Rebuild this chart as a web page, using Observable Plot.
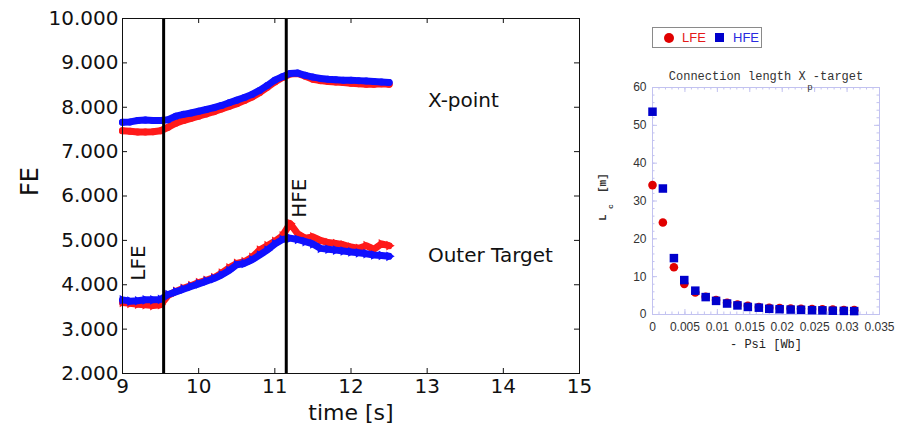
<!DOCTYPE html>
<html><head><meta charset="utf-8">
<script src="https://cdn.jsdelivr.net/npm/d3@7"></script>
<script src="https://cdn.jsdelivr.net/npm/@observablehq/plot@0.6"></script>
<style>
body{margin:0;background:#fff;}
#root{position:relative;width:908px;height:428px;overflow:hidden;background:#fff;}
#left{position:absolute;left:0;top:0;}
#right{position:absolute;left:600px;top:0;}
#legend{position:absolute;left:652px;top:27px;width:108px;height:19px;border:1px solid #8a8a8a;font-family:"Liberation Sans",Arial,sans-serif;font-size:13px;}
#legend span{position:absolute;line-height:19px;top:0;}
</style></head><body>
<div id="root"><div id="left"></div><div id="right"></div>
<div id="legend">
  <span style="left:11px;top:4.5px;width:10px;height:10px;border-radius:50%;background:#e00000"></span>
  <span style="left:29px;color:#e41a1a">LFE</span>
  <span style="left:62px;top:5px;width:9px;height:9px;background:#0000cc"></span>
  <span style="left:80px;color:#2a2ae0">HFE</span>
</div>
</div>
<script>
// ---------- left panel data ----------
const time = [9.0,9.1,9.2,9.3,9.4,9.5,9.6,9.7,9.8,9.9,10.0,10.1,10.2,10.3,10.4,10.5,10.6,10.7,10.8,10.9,11.0,11.1,11.2,11.3,11.4,11.5,11.6,11.7,11.8,11.9,12.0,12.1,12.2,12.3,12.4,12.5];
const xpointLFE = [7.47,7.46,7.44,7.44,7.45,7.47,7.55,7.64,7.70,7.75,7.80,7.85,7.90,7.96,8.02,8.08,8.15,8.23,8.33,8.45,8.57,8.67,8.75,8.76,8.70,8.63,8.60,8.58,8.57,8.56,8.54,8.53,8.52,8.52,8.53,8.52];
const xpointHFE = [7.66,7.67,7.70,7.71,7.70,7.70,7.72,7.80,7.84,7.87,7.91,7.95,7.99,8.04,8.10,8.16,8.22,8.29,8.38,8.49,8.61,8.69,8.76,8.77,8.72,8.68,8.65,8.63,8.62,8.61,8.61,8.60,8.59,8.58,8.57,8.56];
const targetLFE = [3.60,3.58,3.56,3.55,3.53,3.55,3.76,3.85,3.92,3.98,4.05,4.10,4.16,4.26,4.38,4.48,4.52,4.62,4.78,4.88,4.98,5.10,5.38,5.15,5.05,5.08,5.00,4.95,4.93,4.90,4.85,4.82,4.88,4.80,4.92,4.88];
const targetHFE = [3.66,3.63,3.64,3.66,3.66,3.67,3.78,3.84,3.90,3.96,4.02,4.08,4.14,4.22,4.32,4.45,4.48,4.56,4.67,4.78,4.92,5.02,5.05,5.02,4.97,4.92,4.82,4.80,4.78,4.76,4.74,4.72,4.70,4.67,4.66,4.64];
const eventTimes = [9.54, 11.15];
const eventLabels = ["LFE", "HFE"];
const eventLabelX = [9.21, 11.32];
const eventLabelY = [4.09, 5.51];
const regionLabels = ["X-point", "Outer Target"];
const regionLabelX = [13.01, 13.01];
const regionLabelY = [8.16, 4.66];
const leftXTicks = [9,10,11,12,13,14,15];
const leftYTicks = [2,3,4,5,6,7,8,9,10];

// ---------- right panel data ----------
const psi = [0,0.0016,0.0033,0.0049,0.0066,0.0082,0.0098,0.0115,0.0131,0.0147,0.0164,0.0180,0.0196,0.0213,0.0229,0.0246,0.0262,0.0278,0.0295,0.0311];
const lcLFE = [34.2,24.3,12.5,8.1,5.8,4.7,3.8,3.1,2.6,2.3,2.0,1.8,1.7,1.6,1.5,1.45,1.35,1.3,1.2,1.15];
const lcHFE = [53.6,33.3,14.9,9.1,6.3,4.6,3.6,2.9,2.4,2.0,1.8,1.5,1.4,1.3,1.25,1.15,1.1,1.0,0.95,0.9];
const rightXTicks = [0,0.005,0.01,0.015,0.02,0.025,0.03,0.035];
const rightYTicks = [0,10,20,30,40,50,60];

// ---------- left panel ----------
const W1 = 600, H1 = 428, mL1 = 122, mR1 = 21, mT1 = 18, mB1 = 55;
const iW1 = W1 - mL1 - mR1, iH1 = H1 - mT1 - mB1;
const rows = s => time.map((t, i) => ({t, v: s[i]}));
const RED = "#ff1a1a", BLUE = "#1010ff";
const evts = eventLabels.map((l, i) => ({l, x: eventLabelX[i], y: eventLabelY[i]}));
const regs = regionLabels.map((l, i) => ({l, x: regionLabelX[i], y: regionLabelY[i]}));

const left = Plot.plot({
  width: W1, height: H1, marginLeft: mL1, marginRight: mR1, marginTop: mT1, marginBottom: mB1,
  style: {fontFamily: "DejaVu Sans", background: "transparent", color: "#000", overflow: "visible"},
  x: {domain: [9, 15]},
  y: {domain: [2, 10]},
  marks: [
    Plot.line(rows(xpointLFE), {x: "t", y: "v", stroke: RED, strokeWidth: 7}),
    Plot.dot(rows(xpointLFE), {x: "t", y: "v", fill: RED, r: 3.5}),
    Plot.line(rows(xpointHFE), {x: "t", y: "v", stroke: BLUE, strokeWidth: 7}),
    Plot.dot(rows(xpointHFE), {x: "t", y: "v", fill: BLUE, r: 3.5}),
    Plot.line(rows(targetLFE), {x: "t", y: "v", stroke: RED, strokeWidth: 7}),
    Plot.dot(rows(targetLFE), {x: "t", y: "v", fill: RED, r: 3.6, symbol: "triangle", rotate: 90}),
    Plot.line(rows(targetHFE), {x: "t", y: "v", stroke: BLUE, strokeWidth: 7}),
    Plot.dot(rows(targetHFE), {x: "t", y: "v", fill: BLUE, r: 3.6, symbol: "triangle", rotate: 90}),
    Plot.ruleX(eventTimes, {x: d => d, stroke: "#000", strokeWidth: 3}),
    Plot.frame({stroke: "#111"}),
    Plot.ruleX(leftXTicks, {x: d => d, insetTop: iH1 - 5, stroke: "#111"}),
    Plot.ruleX(leftXTicks, {x: d => d, insetBottom: iH1 - 5, stroke: "#111"}),
    Plot.ruleY(leftYTicks, {y: d => d, insetRight: iW1 - 5, stroke: "#111"}),
    Plot.ruleY(leftYTicks, {y: d => d, insetLeft: iW1 - 5, stroke: "#111"}),
    Plot.axisX(leftXTicks, {tickSize: 0, tickPadding: 5, fontSize: 20, label: null, fill: "#111"}),
    Plot.axisY(leftYTicks, {tickSize: 0, tickPadding: 4, fontSize: 20, label: null, fill: "#111", tickFormat: d => d.toFixed(3)}),
    Plot.text(["FE"], {frameAnchor: "left", dx: -92, rotate: -90, fontSize: 24, fill: "#111"}),
    Plot.text(["time [s]"], {frameAnchor: "bottom", dy: 46, fontSize: 22, fill: "#111"}),
    Plot.text(regs, {x: "x", y: "y", text: "l", textAnchor: "start", fontSize: 20, fill: "#111"}),
    Plot.text(evts, {x: "x", y: "y", text: "l", textAnchor: "start", rotate: -90, fontSize: 20, fill: "#111"})
  ]
});
document.getElementById("left").appendChild(left);

// ---------- right panel ----------
const W2 = 308, H2 = 428, mL2 = 52, mR2 = 29, mT2 = 87, mB2 = 114;
const iW2 = W2 - mL2 - mR2, iH2 = H2 - mT2 - mB2;
const LAV = "#c2c2f0";
const minorX = d3.range(0, 36).map(i => i / 1000);
const minorY = d3.range(0, 31).map(i => i * 2);
const lc = psi.map((p, i) => ({p, lfe: lcLFE[i], hfe: lcHFE[i]}));

const right = Plot.plot({
  width: W2, height: H2, marginLeft: mL2, marginRight: mR2, marginTop: mT2, marginBottom: mB2,
  style: {fontFamily: "Liberation Sans", background: "transparent", color: "#333", overflow: "visible"},
  x: {domain: [0, 0.035]},
  y: {domain: [0, 60]},
  marks: [
    Plot.ruleX(minorX, {x: d => d, insetTop: iH2 - 2.5, stroke: LAV}),
    Plot.ruleX(minorX, {x: d => d, insetBottom: iH2 - 2.5, stroke: LAV}),
    Plot.ruleX(rightXTicks, {x: d => d, insetTop: iH2 - 5, stroke: LAV}),
    Plot.ruleX(rightXTicks, {x: d => d, insetBottom: iH2 - 5, stroke: LAV}),
    Plot.ruleY(minorY, {y: d => d, insetRight: iW2 - 2.5, stroke: LAV}),
    Plot.ruleY(minorY, {y: d => d, insetLeft: iW2 - 2.5, stroke: LAV}),
    Plot.ruleY(rightYTicks, {y: d => d, insetRight: iW2 - 5, stroke: LAV}),
    Plot.ruleY(rightYTicks, {y: d => d, insetLeft: iW2 - 5, stroke: LAV}),
    Plot.frame({stroke: LAV}),
    Plot.dot(lc, {x: "p", y: "lfe", r: 4.3, fill: "#e00000", symbol: "circle"}),
    Plot.dot(lc, {x: "p", y: "hfe", r: 4.8, fill: "#0000cc", symbol: "square"}),
    Plot.axisX(rightXTicks, {tickSize: 0, tickPadding: 8, fontSize: 12, label: null, fill: "#333", tickFormat: d => String(+d.toFixed(3))}),
    Plot.axisY(rightYTicks, {tickSize: 0, tickPadding: 6, fontSize: 12, label: null, fill: "#333"}),
    Plot.text(["Connection length X -target"], {frameAnchor: "top", dy: -16, fontFamily: "Liberation Mono", fontSize: 12, fill: "#333"}),
    Plot.text(["p"], {frameAnchor: "top", dy: -4, dx: 44, fontFamily: "Liberation Mono", fontSize: 9, fill: "#333"}),
    Plot.text(["- Psi [Wb]"], {frameAnchor: "bottom", dy: 33, fontFamily: "Liberation Mono", fontSize: 12, fill: "#222"}),
    Plot.text(["L"], {frameAnchor: "left", dx: -50, dy: 20, rotate: -90, fontFamily: "Liberation Mono", fontSize: 11, fontWeight: "bold", fill: "#333"}),
    Plot.text(["c"], {frameAnchor: "left", dx: -42, dy: 8, rotate: -90, fontFamily: "Liberation Mono", fontSize: 8, fontWeight: "bold", fill: "#333"}),
    Plot.text(["[m]"], {frameAnchor: "left", dx: -50, dy: -8, rotate: -90, fontFamily: "Liberation Mono", fontSize: 11, fontWeight: "bold", fill: "#333"})
  ]
});
document.getElementById("right").appendChild(right);
</script>
</body></html>
